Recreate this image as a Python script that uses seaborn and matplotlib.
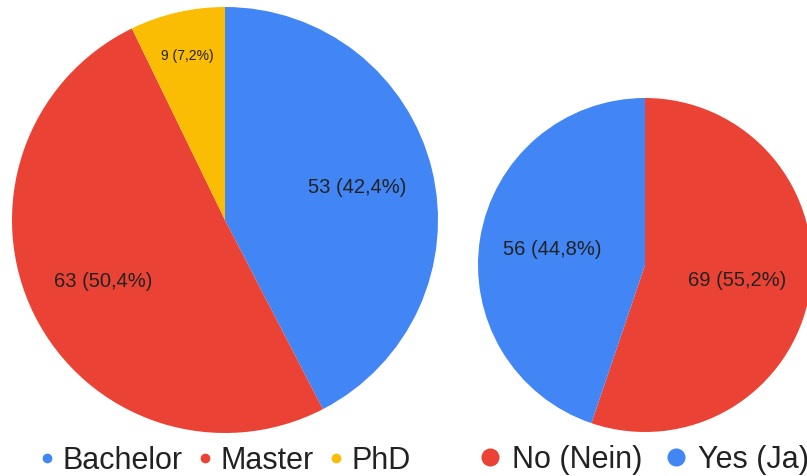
import matplotlib
matplotlib.use('Agg')
import matplotlib.pyplot as plt
from matplotlib.lines import Line2D
import seaborn as sns
import numpy as np

# data
degree_labels = ['Bachelor', 'Master', 'PhD']
degree_counts = [53, 63, 9]
answer_labels = ['No (Nein)', 'Yes (Ja)']
answer_counts = [69, 56]

blue = '#4285F4'
red = '#EA4335'
yellow = '#FBBC04'
degree_colors = [blue, red, yellow]
answer_colors = [red, blue]

sns.set_theme(style="white")
plt.rcParams['font.family'] = ['Liberation Sans', 'DejaVu Sans']
text_color = '#222222'

W, H = 807, 476
fig = plt.figure(figsize=(W / 100, H / 100), dpi=100)


def fmt_factory(counts):
    total = sum(counts)

    def fmt(pct):
        n = int(round(pct * total / 100.0))
        return f"{n} ({pct:.1f}%)".replace('.', ',')
    return fmt


def draw_pie(rect, counts, colors, dist, small_dist):
    ax = fig.add_axes(rect)
    wedges = ax.pie(counts, colors=colors, startangle=90, counterclock=False,
                    labels=None, radius=1.0, wedgeprops={'linewidth': 0})[0]
    f = fmt_factory(counts)
    total = sum(counts)
    for w, c in zip(wedges, counts):
        pct = 100.0 * c / total
        mid = np.deg2rad((w.theta1 + w.theta2) / 2)
        small = pct < 10
        r = small_dist if small else dist
        ax.text(r * np.cos(mid), r * np.sin(mid), f(pct), ha='center', va='center',
                fontsize=10 if small else 14.5, color=text_color)
    ax.set_xlim(-1, 1)
    ax.set_ylim(-1, 1)
    ax.set_aspect('equal')
    ax.axis('off')
    return ax


# left pie: center (225, 220), r 213
r1 = 213
draw_pie([(225 - r1) / W, (H - 220 - r1) / H, 2 * r1 / W, 2 * r1 / H],
         degree_counts, degree_colors, 0.64, 0.79)

# right pie: center (645, 265), r 167
r2 = 167
draw_pie([(645 - r2) / W, (H - 265 - r2) / H, 2 * r2 / W, 2 * r2 / H],
         answer_counts, answer_colors, 0.56, 0.79)

# legends
h1 = [Line2D([], [], marker='o', linestyle='', markersize=7, color=c,
             markeredgewidth=0) for c in degree_colors]
fig.legend(h1, degree_labels, loc='center left', bbox_to_anchor=(41 / W, 1 - 461 / H),
           ncol=3, frameon=False, fontsize=22, handlelength=0.4, handletextpad=0.29,
           columnspacing=0.55, borderpad=0, borderaxespad=0, labelcolor=text_color)

h2 = [Line2D([], [], marker='o', linestyle='', markersize=13, color=c,
             markeredgewidth=0) for c in answer_colors]
fig.legend(h2, answer_labels, loc='center left', bbox_to_anchor=(479 / W, 1 - 460 / H),
           ncol=2, frameon=False, fontsize=22, handlelength=0.7, handletextpad=0.37,
           columnspacing=0.76, borderpad=0, borderaxespad=0, labelcolor=text_color)

fig.savefig('out.png', dpi=100)
